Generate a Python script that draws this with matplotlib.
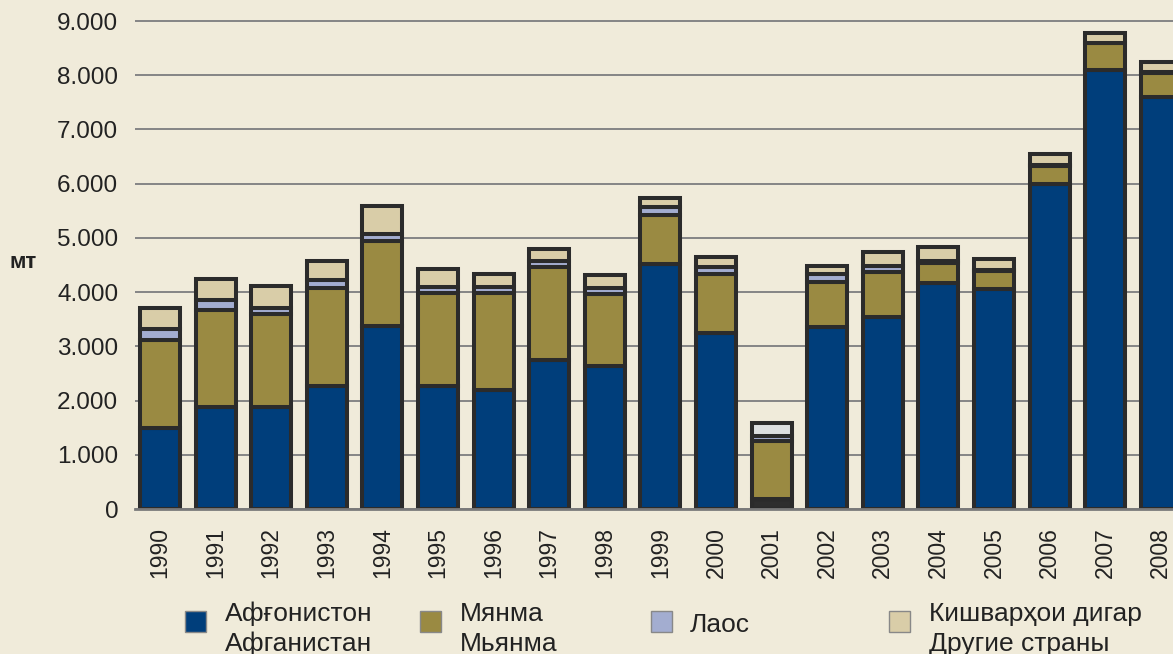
import matplotlib
matplotlib.use("Agg")
import matplotlib.pyplot as plt
from matplotlib.patches import Rectangle
import numpy as np

plt.rcParams['font.family'] = ['Liberation Sans', 'DejaVu Sans']

years = ['1990', '1991', '1992', '1993', '1994', '1995', '1996', '1997', '1998', '1999',
         '2000', '2001', '2002', '2003', '2004', '2005', '2006', '2007', '2008']
afghanistan = [1500, 1890, 1890, 2260, 3370, 2260, 2190, 2740, 2630, 4520,
               3240, 185, 3350, 3540, 4170, 4060, 6000, 8100, 7600]
myanmar = [1620, 1780, 1700, 1810, 1570, 1720, 1790, 1720, 1330, 910,
           1090, 1060, 830, 830, 370, 330, 330, 490, 450]
laos = [200, 180, 110, 150, 130, 110, 110, 110, 110, 140,
        140, 110, 150, 110, 40, 14, 20, 9, 10]
others = [380, 390, 410, 350, 520, 330, 240, 230, 240, 170,
          180, 240, 150, 260, 250, 210, 190, 180, 190]

labels_tj = ['Афғонистон', 'Мянма', 'Лаос', 'Кишварҳои дигар']
labels_ru = ['Афганистан', 'Мьянма', '', 'Другие страны']
yticks = [0, 1000, 2000, 3000, 4000, 5000, 6000, 7000, 8000, 9000]

BG = '#f0ebda'
EDGE = '#2b2b2b'
colors = ['#003e7b', '#9a8a42', '#a3add0', '#d9cda8']

W, H = 1173, 654
fig = plt.figure(figsize=(W / 100, H / 100), dpi=100, facecolor=BG)
ax = fig.add_axes([135 / W, (H - 509) / H, 1 - 135 / W, (509 - 15.6) / H])
ax.set_facecolor(BG)

x = np.arange(len(years))
series = [afghanistan, myanmar, laos, others]
bottom = np.zeros(len(years))
for i, vals in enumerate(series):
    vals = np.array(vals, dtype=float)
    fcs = [colors[i]] * len(years)
    if i == 0:
        fcs[years.index('2001')] = '#2e2e2e'
    if i == 3:
        fcs[years.index('2001')] = '#dcdfe0'
    ax.bar(x, vals, bottom=bottom, width=0.72, color=fcs, edgecolor=EDGE,
           linewidth=2.9, zorder=3)
    bottom += vals

ax.set_xlim(-0.45, 18.22)
ax.set_ylim(0, 9100)
ax.set_yticks(yticks)
ax.set_yticklabels([f"{v:,}".replace(",", ".") for v in yticks], fontsize=17.5, color='#222222')
ax.set_xticks(x)
ax.set_xticklabels(years, rotation=90, fontsize=16.5, color='#222222')
ax.tick_params(axis='both', length=0)
ax.tick_params(axis='y', pad=12)
ax.tick_params(axis='x', pad=13)
ax.grid(axis='y', color='#858585', linewidth=1.4, zorder=0)
ax.set_axisbelow(True)
for s in ['left', 'right', 'top']:
    ax.spines[s].set_visible(False)
ax.spines['bottom'].set_color('#7a7a7a')
ax.spines['bottom'].set_linewidth(2)
ax.spines['bottom'].set_zorder(4)

fig.text(23 / W, (H - 262) / H, 'мт', fontsize=16, fontweight='bold',
         ha='center', va='center', color='#222222')

# legend
sq_x = [185, 420, 651, 889]
txt_x = [225, 460, 690, 929]
for i in range(4):
    fig.patches.append(Rectangle((sq_x[i] / W, (H - 632) / H), 21 / W, 21 / H,
                                 transform=fig.transFigure, facecolor=colors[i],
                                 edgecolor='#888888', linewidth=1))
    if labels_ru[i]:
        fig.text(txt_x[i] / W, (H - 621) / H, labels_tj[i], fontsize=19,
                 ha='left', va='baseline', color='#222222')
        fig.text(txt_x[i] / W, (H - 651) / H, labels_ru[i], fontsize=19,
                 ha='left', va='baseline', color='#222222')
    else:
        fig.text(txt_x[i] / W, (H - 632) / H, labels_tj[i], fontsize=19,
                 ha='left', va='baseline', color='#222222')

fig.savefig('out.png', dpi=100, facecolor=BG)
